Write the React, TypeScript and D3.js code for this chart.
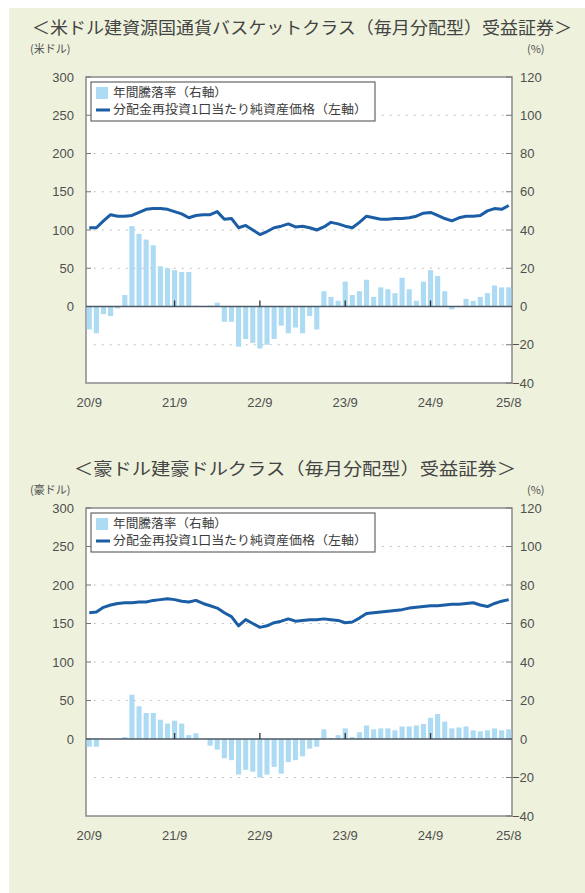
import * as d3 from "d3";

// months 2020/9 .. 2025/8 (60)
const months: string[] = d3.range(60).map((i) => {
  const m = 8 + i;
  const y = 20 + Math.floor(m / 12);
  return `${y}/${(m % 12) + 1}`;
});
const tickMonths = ["20/9", "21/9", "22/9", "23/9", "24/9", "25/8"];
const zeroTickMonths = ["21/9", "22/9", "23/9", "24/9"];

const leftTicks = [0, 50, 100, 150, 200, 250, 300];
const rightTicks = [-40, -20, 0, 20, 40, 60, 80, 100, 120];

// 米ドル建資源国通貨バスケットクラス
const usdNav = [
  103, 103, 112, 120, 118, 118, 119, 123, 127, 128, 128, 127, 124, 121, 116, 119, 120, 120, 124, 114,
  115, 103, 106, 100, 94, 98, 103, 105, 108, 104, 105, 103, 100, 104, 110, 108, 105, 103, 110, 118,
  116, 114, 114, 115, 115, 116, 118, 122, 123, 119, 115, 112, 116, 118, 118, 119, 125, 128, 127, 132,
];
const usdReturn = [
  -12, -14, -4, -5, -1, 6, 42, 38, 35, 32, 21, 20, 19, 18, 18, 0.5, 0, 0.5, 2, -8,
  -8, -21, -17, -19, -22, -20, -17, -10, -14, -11, -14, -5, -12, 8, 5, 3, 13, 6, 8, 14,
  5, 10, 9, 7, 15, 9, 3, 13, 19, 16, 8, -1.5, 0, 4, 3, 5, 7, 11, 10, 10,
];

// 豪ドル建豪ドルクラス
const audNav = [
  164, 165, 171, 174, 176, 177, 177, 178, 178, 180, 181, 182, 181, 179, 178, 180, 176, 173, 170, 164,
  159, 147, 155, 150, 145, 147, 151, 153, 156, 153, 154, 155, 155, 156, 155, 154, 151, 152, 157, 163,
  164, 165, 166, 167, 168, 170, 171, 172, 173, 173, 174, 175, 175, 176, 177, 174, 172, 176, 179, 181,
];
const audReturn = [
  -4, -4, 0, 0, 0, 1, 23, 17, 13.5, 13.5, 10, 8, 9.5, 8, 2, 3, 0, -3.5, -5.5, -10,
  -11, -18.5, -16, -17, -20, -18.5, -14.5, -18, -12, -11, -9, -5, -4, 5, 0.5, 2, 5.5, 1, 3.5, 7,
  5, 5.5, 5.5, 4.5, 6.5, 6.5, 7, 7.8, 11, 13, 9, 5.5, 6, 6.5, 4.5, 4, 4.5, 5.5, 4.5, 5,
];

const legendBar = "年間騰落率（右軸）";
const legendLine = "分配金再投資1口当たり純資産価格（左軸）";

const BAR = "#acdbf3";
const LINE = "#1b5ea6";
const TXT = "#4f4f4f";
const SANS = "'Liberation Sans', Arial, sans-serif";
const JP = "'Noto Sans CJK JP', sans-serif";

type ChartProps = {
  title: string;
  titleX: number;
  titleW: number;
  titleY: number;
  unit: string;
  unitY: number;
  nav: number[];
  ret: number[];
  top: number;
  bottom: number;
};

function Chart({ title, titleX, titleW, titleY, unit, unitY, nav, ret, top, bottom }: ChartProps) {
  const left = 86;
  const right = 512;
  const x = d3.scaleBand<string>().domain(months).range([left, right]).paddingInner(0.28).paddingOuter(0.1);
  const yL = d3.scaleLinear().domain([-100, 300]).range([bottom, top]);
  const yR = d3.scaleLinear().domain([-40, 120]).range([bottom, top]);
  const cx = (m: string) => (x(m) ?? 0) + x.bandwidth() / 2;
  const line = d3
    .line<number>()
    .x((_, i) => cx(months[i]))
    .y((d) => yL(d));
  const y0 = yL(0);

  return (
    <g>
      <text
        x={titleX}
        y={titleY}
        fontFamily={JP}
        fontSize={17}
        fill="#444"
        textLength={titleW}
        lengthAdjust="spacingAndGlyphs"
      >
        {title}
      </text>
      <text x={30} y={unitY} fontFamily={JP} fontSize={11} fill={TXT}>
        {unit}
      </text>
      <text x={527} y={unitY} fontFamily={JP} fontSize={11} fill={TXT}>
        (%)
      </text>

      <rect x={left} y={top} width={right - left} height={bottom - top} fill="#fff" stroke="#8a8a8a" strokeWidth={1.5} />

      {[250, 200, 150, 100, 50, -50].map((t) => (
        <line key={`g${t}`} x1={left + 8} x2={right - 8} y1={yL(t)} y2={yL(t)} stroke="#b0b0b0" strokeDasharray="1.5 6.5" />
      ))}
      {leftTicks.map((t) => (
        <g key={`l${t}`}>
          <line x1={left} x2={left + 5} y1={yL(t)} y2={yL(t)} stroke="#777" />
          <text x={74} y={yL(t)} dy="0.35em" textAnchor="end" fontFamily={SANS} fontSize={13} fill={TXT}>
            {t}
          </text>
        </g>
      ))}
      {rightTicks.map((t) => (
        <g key={`r${t}`}>
          <line x1={right - 6} x2={right} y1={yR(t)} y2={yR(t)} stroke="#777" />
          <text x={t < 0 ? 512 : 520} y={yR(t)} dy="0.35em" fontFamily={SANS} fontSize={13} fill={TXT}>
            {t < 0 ? `\u2212${-t}` : t}
          </text>
        </g>
      ))}

      {ret.map((v, i) => (
        <rect
          key={`b${i}`}
          x={x(months[i])}
          width={x.bandwidth()}
          y={Math.min(yR(v), yR(0))}
          height={Math.abs(yR(v) - yR(0))}
          fill={BAR}
        />
      ))}

      <line x1={left} x2={right} y1={y0} y2={y0} stroke="#4d5966" strokeWidth={1.3} />
      {zeroTickMonths.map((m) => (
        <line key={`z${m}`} x1={cx(m)} x2={cx(m)} y1={y0 - 6} y2={y0} stroke="#333" strokeWidth={1.3} />
      ))}

      <path d={line(nav) ?? ""} fill="none" stroke={LINE} strokeWidth={3} strokeLinejoin="round" />

      {tickMonths.map((m) => (
        <text key={`x${m}`} x={cx(m)} y={bottom + 19} dy="0.35em" textAnchor="middle" fontFamily={SANS} fontSize={13} fill={TXT}>
          {m}
        </text>
      ))}

      <rect x={91} y={top + 5} width={284} height={39} fill="#fff" stroke="#666" strokeWidth={1.2} />
      <rect x={96} y={top + 10} width={12} height={12} fill={BAR} />
      <text
        x={113}
        y={top + 16}
        dy="0.35em"
        fontFamily={JP}
        fontSize={12}
        fill="#3a3a3a"
        textLength={114}
        lengthAdjust="spacingAndGlyphs"
      >
        {legendBar}
      </text>
      <line x1={96} x2={110} y1={top + 33} y2={top + 33} stroke={LINE} strokeWidth={3} />
      <text
        x={113}
        y={top + 33}
        dy="0.35em"
        fontFamily={JP}
        fontSize={12}
        fill="#3a3a3a"
        textLength={254}
        lengthAdjust="spacingAndGlyphs"
      >
        {legendLine}
      </text>
    </g>
  );
}

export default function App() {
  return (
    <svg width={585} height={893} style={{ position: "absolute", left: 0, top: 0 }}>
      <rect x={0} y={0} width={585} height={893} fill="#fff" />
      <rect x={9} y={8} width={576} height={885} fill="#eef2dc" />
      <Chart
        title="＜米ドル建資源国通貨バスケットクラス（毎月分配型）受益証券＞"
        titleX={32}
        titleW={540}
        titleY={34}
        unit="(米ドル)"
        unitY={53}
        nav={usdNav}
        ret={usdReturn}
        top={77}
        bottom={383}
      />
      <Chart
        title="＜豪ドル建豪ドルクラス（毎月分配型）受益証券＞"
        titleX={74}
        titleW={442}
        titleY={475}
        unit="(豪ドル)"
        unitY={494}
        nav={audNav}
        ret={audReturn}
        top={508}
        bottom={816}
      />
    </svg>
  );
}
